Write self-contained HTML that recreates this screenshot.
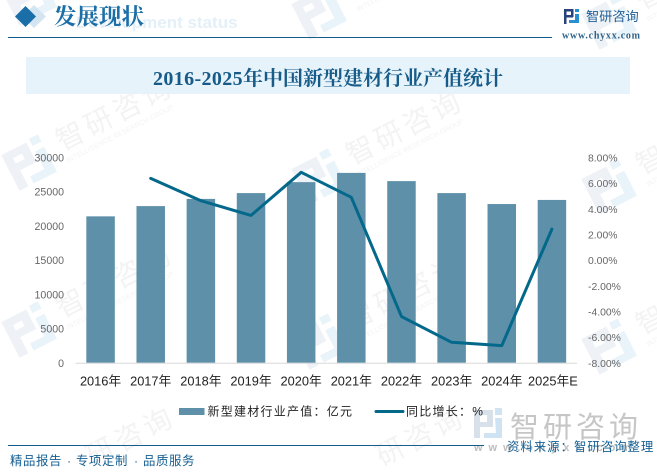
<!DOCTYPE html>
<html lang="zh">
<head>
<meta charset="utf-8">
<title>2016-2025年中国新型建材行业产值统计</title>
<style>
html,body{margin:0;padding:0;background:#fff;}
#page{position:relative;width:657px;height:473px;overflow:hidden;background:#fff;}
svg{position:absolute;left:0;top:0;display:block;}
</style>
</head>
<body>
<div id="page">
<svg id="stage" width="657" height="473" viewBox="0 0 657 473" xmlns="http://www.w3.org/2000/svg">
  <g id="watermarks"></g>

  <g>
    <polygon points="34,5 46,16.5 34,28 22,16.5" fill="#d3e5f0"/>
    <polygon points="25.5,6 36,16.5 25.5,27 15,16.5" fill="#1a6fa8"/>
    <text x="76" y="28" font-family="'Liberation Sans',sans-serif" font-weight="bold" font-size="17" fill="#e4f0f8">Development status</text>
    <text x="54" y="24.5" font-family="'Liberation Serif','Noto Serif CJK SC',serif" font-weight="bold" font-size="22.5" fill="#1b6ea6">发展现状</text>
    <line x1="8" y1="37.5" x2="552" y2="37.5" stroke="#155e8c" stroke-width="1"/>
    <g>
      <rect x="564" y="9" width="7" height="2.5" fill="#27427f"/>
      <rect x="564" y="9" width="2.5" height="15" fill="#27427f"/>
      <rect x="564" y="15" width="9" height="2.5" fill="#27427f"/>
      <rect x="571" y="9" width="2.5" height="8" fill="#27427f"/>
      <rect x="575" y="9" width="4" height="3" fill="#2a8fd0"/>
      <rect x="575" y="14" width="4" height="7" fill="#2a8fd0"/>
      <rect x="569" y="20" width="10" height="3" fill="#2a8fd0"/>
    </g>
    <text x="586" y="21" font-family="'Liberation Sans','Noto Sans CJK SC',sans-serif" font-size="13.2" fill="#1f5f95">智研咨询</text>
    <text x="562" y="38.5" font-family="'Liberation Serif',serif" font-weight="bold" font-size="10" textLength="78" lengthAdjust="spacing" fill="#2f6389">www.chyxx.com</text>
  </g>

  <rect x="26" y="57" width="604" height="37" fill="#e6f3fb"/>
  <text x="153" y="85" font-family="'Liberation Serif','Noto Serif CJK SC',serif" font-weight="bold" font-size="20" fill="#175c89"><tspan letter-spacing="0.37">2016-2025</tspan>年中国新型建材行业产值统计</text>

  <g id="chart"></g>

  <g>
    <g>
      <path d="M474 410h19v17h-13v11h-6zM480 415v7h7v-7z" fill-rule="evenodd" fill="#d8e1ea"/>
      <path d="M495 408h7v7h-7zM495 418h7v20h-18v-5h12z" fill="#cfe3f3"/>
      <text x="510" y="437" font-family="'Liberation Sans','Noto Sans CJK SC',sans-serif" font-size="29" letter-spacing="4" fill="#c6c6c6">智研咨询</text>
      <text x="474" y="451" font-family="'Liberation Sans',sans-serif" font-weight="bold" font-size="11" letter-spacing="6" fill="#bdbdbd">www.chyxx.com</text>
    </g>
    <line x1="8" y1="445.5" x2="484" y2="445.5" stroke="#155e8c" stroke-width="1"/>
    <text y="465" font-family="'Liberation Sans','Noto Sans CJK SC',sans-serif" font-size="12.4" letter-spacing="0.6" fill="#145f92"><tspan x="10">精品报告</tspan><tspan x="67">·</tspan><tspan x="76">专项定制</tspan><tspan x="134">·</tspan><tspan x="143">品质服务</tspan></text>
    <text x="507" y="451" font-family="'Liberation Sans','Noto Sans CJK SC',sans-serif" font-size="12.4" letter-spacing="1" fill="#145f92">资料来源：智研咨询整理</text>
  </g>

  <g>
    <g>
      <rect x="179" y="408" width="25.5" height="7" fill="#5e91a9"/>
      <text x="207.5" y="415.5" font-family="'Liberation Sans','Noto Sans CJK SC',sans-serif" font-size="12" letter-spacing="1.25" fill="#222">新型建材行业产值：亿元</text>
    </g>
    <g>
      <line x1="376" y1="411.5" x2="403" y2="411.5" stroke="#04688b" stroke-width="3" stroke-linecap="round"/>
      <text x="406" y="415.5" font-family="'Liberation Sans','Noto Sans CJK SC',sans-serif" font-size="12" letter-spacing="1.25" fill="#222">同比增长：%</text>
    </g>
  </g>
</svg>
</div>
<script>
var categories = ['2016年','2017年','2018年','2019年','2020年','2021年','2022年','2023年','2024年','2025年E'];
var outputValues = [21400,22900,23950,24800,26400,27750,26550,24800,23200,23800];
var growthValues = [null,6.37,4.63,3.49,6.85,4.9,-4.4,-6.4,-6.66,2.42];
var leftTicks = [0,5000,10000,15000,20000,25000,30000];
var rightTicks = [-8,-6,-4,-2,0,2,4,6,8];

var NS = 'http://www.w3.org/2000/svg';
var chart = document.getElementById('chart');
var plotLeft = 75.5, plotRight = 577, plotTop = 157.5, plotBottom = 362.8;
var leftMax = 30000, rightMin = -8, rightMax = 8;

function xCenter(i){ return plotLeft + (plotRight - plotLeft) * (i + 0.5) / categories.length; }
function yLeft(v){ return plotBottom - (v / leftMax) * (plotBottom - plotTop); }
function yRight(v){ return plotBottom - ((v - rightMin) / (rightMax - rightMin)) * (plotBottom - plotTop); }

function make(tag, attrs, parent){
  var el = document.createElementNS(NS, tag);
  for (var k in attrs) el.setAttribute(k, attrs[k]);
  parent.appendChild(el);
  return el;
}

var barWidth = 28.5;
categories.forEach(function(c, i){
  var top = yLeft(outputValues[i]);
  var bar = make('rect', {x: xCenter(i) - barWidth / 2, y: top, width: barWidth, height: plotBottom - top, fill: '#5e91a9'}, chart);
  
  
});

var axis = make('line', {x1: plotLeft, y1: plotBottom + 0.4, x2: plotRight, y2: plotBottom + 0.4, stroke: '#d9d9d9', 'stroke-width': 1}, chart);



var pts = [];
growthValues.forEach(function(v, i){
  if (v !== null) pts.push(xCenter(i).toFixed(1) + ',' + yRight(v).toFixed(1));
});
var growthLine = make('polyline', {points: pts.join(' '), fill: 'none', stroke: '#04688b', 'stroke-width': 3, 'stroke-linejoin': 'round', 'stroke-linecap': 'round'}, chart);



var labelFont = "'Liberation Sans','Noto Sans CJK SC',sans-serif";
leftTicks.forEach(function(t){
  var label = make('text', {x: 64, y: yLeft(t) + 4, 'text-anchor': 'end', 'font-family': labelFont, 'font-size': 10.6, fill: '#666'}, chart);
  label.textContent = String(t);
  
  
});
rightTicks.forEach(function(t){
  var label = make('text', {x: 588, y: yRight(t) + 4, 'font-family': labelFont, 'font-size': 10.4, fill: '#666'}, chart);
  label.textContent = t.toFixed(2) + '%';
  
  
});
categories.forEach(function(c, i){
  var label = make('text', {x: xCenter(i) + (i === 9 ? 1 : 0), y: 385.5, 'text-anchor': 'middle', 'font-family': labelFont, 'font-size': 12.8, fill: '#222'}, chart);
  label.textContent = c;
  
  
});

var wmLayer = document.getElementById('watermarks');
[[30,-2],[30,163],[30,330],[320,12],[320,177],[320,342],[610,22],[610,187],[610,347]].forEach(function(o){
  var g = make('g', {transform: 'translate(' + o[0] + ',' + o[1] + ') rotate(-27)'}, wmLayer);
  
  
  make('path', {d: 'M-22 -20h28v22h-18v18h-10zM-13 -12v6h10v-6z', 'fill-rule': 'evenodd', fill: '#eef2f7'}, g);
  make('path', {d: 'M10 -22h10v8h-10zM10 -8h10v28h-26v-8h16z', fill: '#e9f3fa'}, g);
  var name = make('text', {x: 34, y: 4, 'font-family': labelFont, 'font-size': 28, 'letter-spacing': 4, fill: '#f3f3f3'}, g);
  name.textContent = '智研咨询';
  var en = make('text', {x: 34, y: 17, 'font-family': labelFont, 'font-size': 7, fill: '#f3f3f3'}, g);
  en.textContent = 'INTELLIGENCE RESEARCH GROUP';
});
[[30,494],[320,494]].forEach(function(o){
  var g = make('g', {transform: 'translate(' + o[0] + ',' + o[1] + ') rotate(-27)'}, wmLayer);
  
  
  var name = make('text', {x: 68, y: 4, 'font-family': labelFont, 'font-size': 28, 'letter-spacing': 4, fill: '#f3f3f3'}, g);
  name.textContent = '研咨询';
});
</script>
</body>
</html>
